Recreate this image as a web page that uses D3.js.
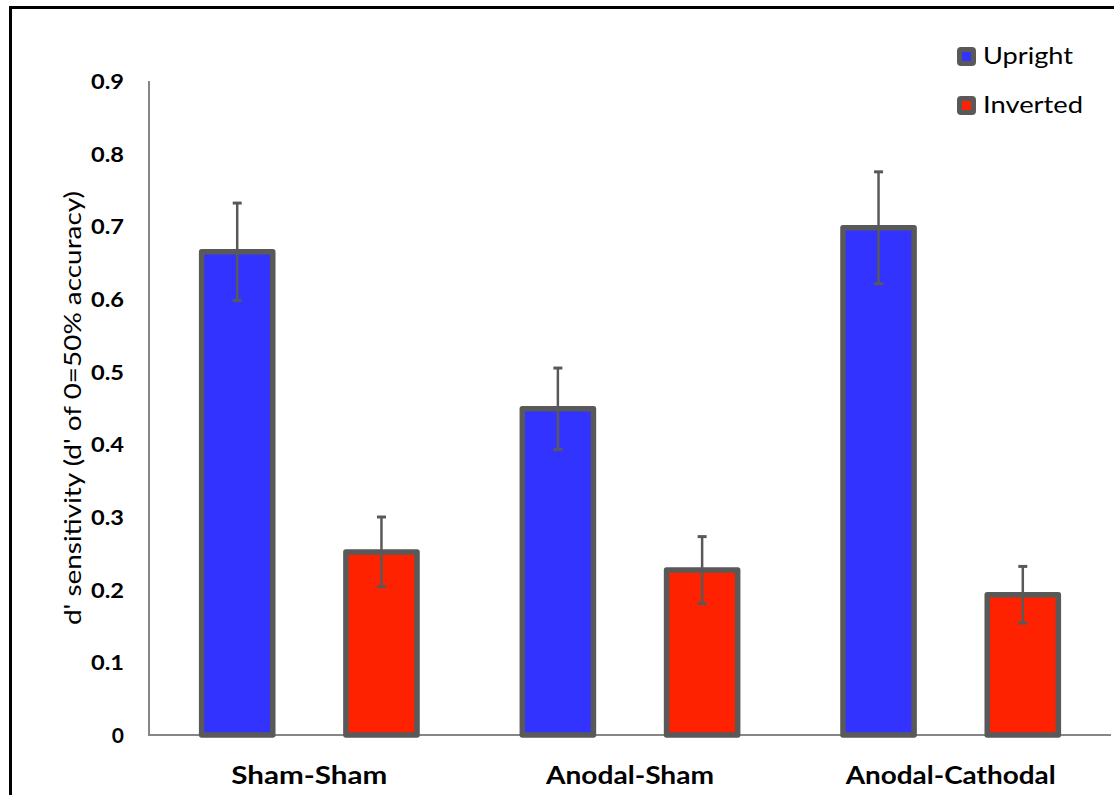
<!DOCTYPE html>
<html>
<head>
<meta charset="utf-8">
<script src="https://cdn.jsdelivr.net/npm/d3@7"></script>
<style>
  html, body { margin: 0; padding: 0; background: #ffffff; }
  svg { display: block; }
  text { font-family: Lato, "Open Sans", "Liberation Sans", sans-serif; }
</style>
</head>
<body>
<svg id="chart" width="1114" height="795"></svg>
<script>
// Conditions and stimulus orientations
const categories = ["Sham-Sham", "Anodal-Sham", "Anodal-Cathodal"];
const seriesNames = ["Upright", "Inverted"];

// Mean d' sensitivity and standard error per condition
const upright = [0.665, 0.449, 0.698];
const uprightErr = [0.067, 0.056, 0.077];
const inverted = [0.252, 0.227, 0.193];
const invertedErr = [0.048, 0.046, 0.039];

// Y axis ticks
const yTicks = [0, 0.1, 0.2, 0.3, 0.4, 0.5, 0.6, 0.7, 0.8, 0.9];
const yTickLabels = ["0", "0.1", "0.2", "0.3", "0.4", "0.5", "0.6", "0.7", "0.8", "0.9"];

const seriesColors = { "Upright": "#3333ff", "Inverted": "#ff2200" };
const barStroke = "#595959";

const svg = d3.select("#chart");
const plot = { left: 149, right: 1111, top: 81, bottom: 735 };

// outer frame
svg.append("rect")
  .attr("x", 10.5).attr("y", 7.5)
  .attr("width", 1200).attr("height", 900)
  .attr("fill", "none").attr("stroke", "#000").attr("stroke-width", 3);

const y = d3.scaleLinear().domain([0, 0.9]).range([plot.bottom, plot.top]);
const x0 = d3.scaleBand().domain(categories).range([plot.left, plot.right]).padding(0);
const x1 = d3.scaleBand().domain(seriesNames).range([0, x0.bandwidth()])
  .paddingInner(0.507).paddingOuter(0.365);

const rows = categories.map((c, i) => ({
  category: c,
  values: [
    { series: "Upright", value: upright[i], err: uprightErr[i] },
    { series: "Inverted", value: inverted[i], err: invertedErr[i] }
  ]
}));

// y axis tick labels
const yAxis = d3.axisLeft(y).tickValues(yTicks)
  .tickFormat((d, i) => yTickLabels[i]).tickSize(0).tickPadding(25);
const gy = svg.append("g").attr("transform", `translate(${plot.left},0)`).call(yAxis);
gy.select(".domain").remove();
gy.selectAll("text")
  .attr("font-family", "Lato, 'Open Sans', sans-serif")
  .attr("font-weight", "bold").attr("font-size", 21).attr("fill", "#000")
  .attr("dy", "0.36em")
  .attr("textLength", (d, i) => yTickLabels[i].length > 1 ? 33 : null)
  .attr("lengthAdjust", "spacingAndGlyphs");

// axis lines
svg.append("line")
  .attr("x1", plot.left).attr("x2", plot.left)
  .attr("y1", y(0.9)).attr("y2", y(0))
  .attr("stroke", "#868686").attr("stroke-width", 2);
svg.append("line")
  .attr("x1", plot.left - 1).attr("x2", plot.right)
  .attr("y1", y(0)).attr("y2", y(0))
  .attr("stroke", "#868686").attr("stroke-width", 2);

// bars
const groups = svg.append("g").selectAll("g").data(rows).join("g")
  .attr("transform", d => `translate(${x0(d.category)},0)`);

groups.selectAll("rect").data(d => d.values).join("rect")
  .attr("x", d => x1(d.series))
  .attr("y", d => y(d.value))
  .attr("width", x1.bandwidth())
  .attr("height", d => y(0) - y(d.value))
  .attr("fill", d => seriesColors[d.series])
  .attr("stroke", barStroke).attr("stroke-width", 5.5)
  .attr("stroke-linejoin", "round");

// error bars
const eb = groups.selectAll("g.err").data(d => d.values).join("g").attr("class", "err");
const cx = d => x1(d.series) + x1.bandwidth() / 2;
eb.append("line")
  .attr("x1", cx).attr("x2", cx)
  .attr("y1", d => y(d.value + d.err)).attr("y2", d => y(d.value - d.err))
  .attr("stroke", barStroke).attr("stroke-width", 2.5);
eb.selectAll("line.cap").data(d => [
    { x: cx(d), v: d.value + d.err },
    { x: cx(d), v: d.value - d.err }
  ]).join("line").attr("class", "cap")
  .attr("x1", d => d.x - 4.5).attr("x2", d => d.x + 4.5)
  .attr("y1", d => y(d.v)).attr("y2", d => y(d.v))
  .attr("stroke", barStroke).attr("stroke-width", 3);

// category labels
const labelWidths = { "Sham-Sham": 156, "Anodal-Sham": 168, "Anodal-Cathodal": 210 };
svg.append("g").selectAll("text").data(categories).join("text")
  .attr("x", d => x0(d) + x0.bandwidth() / 2)
  .attr("y", 784)
  .attr("text-anchor", "middle")
  .attr("font-weight", "bold").attr("font-size", 24).attr("fill", "#000")
  .attr("textLength", d => labelWidths[d])
  .attr("lengthAdjust", "spacingAndGlyphs")
  .text(d => d);

// y axis title
svg.append("text")
  .attr("transform", `translate(81,${(plot.top + plot.bottom) / 2}) rotate(-90)`)
  .attr("text-anchor", "middle")
  .attr("font-family", "'Liberation Sans Narrow', 'Open Sans', sans-serif")
  .attr("font-size", 24).attr("fill", "#000")
  .attr("textLength", 434).attr("lengthAdjust", "spacingAndGlyphs")
  .text("d' sensitivity (d' of 0=50% accuracy)");

// legend
const legend = svg.append("g").selectAll("g").data(seriesNames).join("g")
  .attr("transform", (d, i) => `translate(957,${47 + i * 49})`);
legend.append("rect")
  .attr("x", 2.5).attr("y", 2.5).attr("width", 14).attr("height", 14)
  .attr("rx", 1.5)
  .attr("fill", d => seriesColors[d])
  .attr("stroke", barStroke).attr("stroke-width", 5);
legend.append("text")
  .attr("x", 26).attr("y", 17)
  .attr("font-size", 24).attr("fill", "#000")
  .attr("textLength", d => d === "Upright" ? 90 : 100)
  .attr("lengthAdjust", "spacingAndGlyphs")
  .text(d => d);
</script>
</body>
</html>
